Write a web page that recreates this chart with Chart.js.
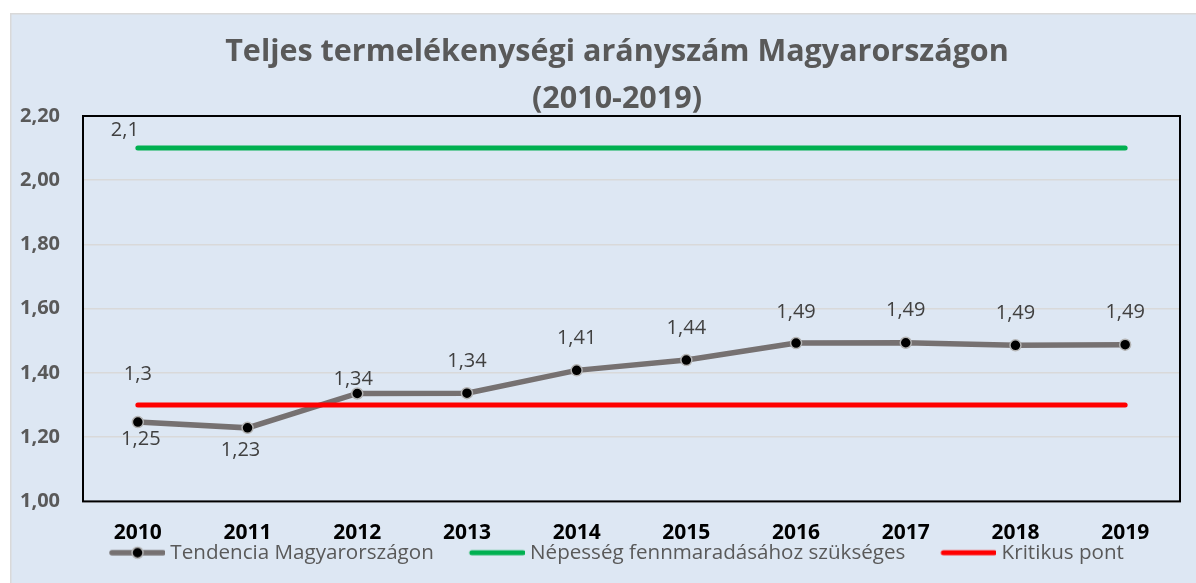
<!DOCTYPE html>
<html><head><meta charset="utf-8">
<script src="https://cdn.jsdelivr.net/npm/chart.js@4.4.1/dist/chart.umd.min.js"></script>
<style>html,body{margin:0;padding:0;background:#fff;} #wrap{width:1196px;height:583px;}</style>
</head><body><div id="wrap"><canvas id="c" width="1196" height="583"></canvas></div>
<script>
// ---- data ----
const years = ['2010','2011','2012','2013','2014','2015','2016','2017','2018','2019'];
const tendencia = [1.247, 1.229, 1.336, 1.337, 1.408, 1.44, 1.493, 1.494, 1.486, 1.488];
const nepesseg = [2.1, 2.1, 2.1, 2.1, 2.1, 2.1, 2.1, 2.1, 2.1, 2.1];
const kritikus = [1.3, 1.3, 1.3, 1.3, 1.3, 1.3, 1.3, 1.3, 1.3, 1.3];
const seriesNames = ['Tendencia Magyarországon', 'Népesség fennmaradásához szükséges', 'Kritikus pont'];
const titleLines = ['Teljes termelékenységi arányszám Magyarországon', '(2010-2019)'];
const yMin = 1.0, yMax = 2.2, yStep = 0.2;

// ---- style ----
const FONT = "'Open Sans', sans-serif";
const colGray = '#767171', colGreen = '#00b050', colRed = '#ff0000';
const panelColor = '#dde7f3';
// label offsets per dataset (dx, dy from the point)
const labelOffsets = [
  [[3,17],[-7,22],[-4,-14],[0,-32],[0,-32],[0,-32],[0,-31],[0,-32],[0,-32],[0,-32]],
  [[-13,-18]],
  [[0,-31]]
];
const fmt = v => (Math.round(v * 100) / 100).toString().replace('.', ',');

function legendIcon(color, lw, dot) {
  const B = 74, W = B + 10, H = 16;
  const c = document.createElement('canvas');
  c.width = W; c.height = H;
  const g = c.getContext('2d');
  g.strokeStyle = color; g.lineWidth = lw; g.lineCap = 'round';
  g.beginPath(); g.moveTo(31, H / 2); g.lineTo(W - 2, H / 2); g.stroke();
  if (dot) {
    g.beginPath(); g.arc((29 + W) / 2, H / 2, 5.5, 0, Math.PI * 2);
    g.fillStyle = '#000'; g.fill();
    g.lineWidth = 1.5; g.strokeStyle = '#b4b4b4'; g.stroke();
  }
  return c;
}
const icons = [legendIcon(colGray, 5.5, true), legendIcon(colGreen, 5, false), legendIcon(colRed, 5, false)];

const panelPlugin = {
  id: 'panel',
  afterLayout(chart) {
    if (chart.titleBlock) { chart.titleBlock.left += 44; }
    if (chart.legend) { chart.legend.left += 10; chart.legend.right += 10; }
    const sx = chart.scales.x;
    if (sx) { sx.bottom += 25; sx.height += 25; }
  },
  beforeDraw(chart) {
    const { ctx, width, height } = chart;
    ctx.save();
    ctx.fillStyle = '#fff'; ctx.fillRect(0, 0, width, height);
    ctx.fillStyle = panelColor; ctx.fillRect(10, 13, width, height);
    ctx.strokeStyle = '#d9d9d9'; ctx.lineWidth = 1.5;
    ctx.strokeRect(10.75, 13.75, width, height);
    ctx.restore();
  },
  beforeDatasetsDraw(chart) {
    const { ctx, chartArea: a } = chart;
    ctx.save();
    ctx.strokeStyle = '#000'; ctx.lineWidth = 2;
    ctx.strokeRect(a.left, a.top, a.right - a.left, a.bottom - a.top);
    ctx.restore();
  }
};

const labelPlugin = {
  id: 'dlabels',
  afterDatasetsDraw(chart) {
    const ctx = chart.ctx;
    ctx.save();
    ctx.font = "20px " + FONT;
    ctx.fillStyle = '#404040';
    ctx.textAlign = 'center';
    ctx.textBaseline = 'middle';
    chart.data.datasets.forEach((ds, di) => {
      const meta = chart.getDatasetMeta(di);
      const offs = labelOffsets[di] || [];
      offs.forEach((o, i) => {
        if (!o || !meta.data[i]) return;
        const p = meta.data[i];
        ctx.fillText(fmt(ds.data[i]), p.x + o[0], p.y + o[1]);
      });
    });
    ctx.restore();
  }
};

new Chart(document.getElementById('c'), {
  type: 'line',
  data: {
    labels: years,
    datasets: [
      { label: seriesNames[0], data: tendencia, borderColor: colGray, borderWidth: 5.5,
        pointRadius: 5.5, pointBackgroundColor: '#000', pointBorderColor: '#b4b4b4', pointBorderWidth: 1.5,
        pointStyle: 'circle', tension: 0, order: 3 },
      { label: seriesNames[1], data: nepesseg, borderColor: colGreen, borderWidth: 5, borderCapStyle: 'round',
        pointRadius: 0, order: 2 },
      { label: seriesNames[2], data: kritikus, borderColor: colRed, borderWidth: 5, borderCapStyle: 'round',
        pointRadius: 0, order: 1 }
    ]
  },
  options: {
    responsive: false,
    animation: false,
    layout: { padding: { left: 10, right: 16, top: 0, bottom: 10 } },
    scales: {
      x: {
        offset: true,
        grid: { display: false, drawTicks: false },
        border: { display: false },
        ticks: { color: '#000', font: { family: FONT, size: 21, weight: 'bold' }, padding: 19, maxRotation: 0 },
        afterFit(s) { s.height = 29; }
      },
      y: {
        min: yMin, max: yMax,
        grid: { color: '#d9d9d9', lineWidth: 1.5, drawTicks: false },
        border: { display: false },
        ticks: { stepSize: yStep, color: '#595959', font: { family: FONT, size: 20, weight: 'bold' }, padding: 23,
          callback: v => v.toFixed(2).replace('.', ',') },
        afterFit(s) { s.width = 73; }
      }
    },
    plugins: {
      title: {
        display: true,
        text: titleLines,
        color: '#595959',
        font: { family: FONT, size: 30.5, weight: 'bold', lineHeight: '47px' },
        padding: { top: 29, bottom: -7 }
      },
      legend: {
        position: 'bottom',
        labels: {
          usePointStyle: true,
          pointStyleWidth: 74,
          padding: 12,
          color: '#595959',
          font: { family: FONT, size: 20.6 },
          generateLabels(chart) {
            return chart.data.datasets.map((ds, i) => ({
              text: ds.label, pointStyle: icons[i], datasetIndex: i,
              fontColor: '#595959', lineWidth: 0, strokeStyle: 'transparent', fillStyle: 'transparent'
            }));
          }
        }
      },
      tooltip: { enabled: false }
    }
  },
  plugins: [panelPlugin, labelPlugin]
});
</script>
</body></html>
